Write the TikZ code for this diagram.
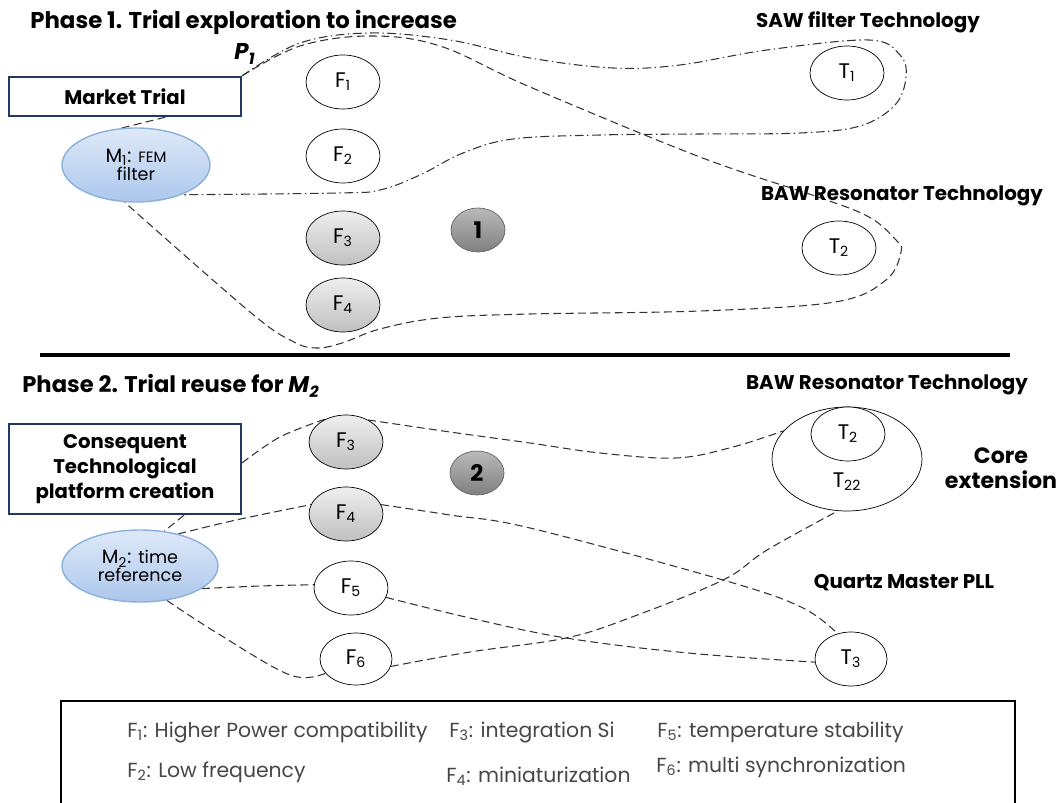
\documentclass[tikz,border=0pt]{standalone}
\usepackage{fontspec}
\setmainfont{Poppins}
\usetikzlibrary{shapes.geometric,backgrounds}
\definecolor{frameBlue}{RGB}{31,56,100}
\definecolor{marketTop}{RGB}{222,233,248}
\definecolor{marketBottom}{RGB}{172,199,236}
\definecolor{marketBorder}{RGB}{140,176,222}
\definecolor{reuseTop}{RGB}{238,238,238}
\definecolor{reuseBottom}{RGB}{192,192,192}
\definecolor{phaseTop}{RGB}{185,185,185}
\definecolor{phaseBottom}{RGB}{128,128,128}
\definecolor{lineGray}{RGB}{50,50,50}
\definecolor{legendGray}{RGB}{70,70,70}
\tikzstyle{diagram} = [x=0.02cm, y=-0.02cm]
\tikzstyle{featureStyle} = [draw, ellipse, fill=white, minimum width=1.48cm, minimum height=1.08cm, inner sep=0pt, font=\fontsize{12}{14}\selectfont]
\tikzstyle{reusedStyle} = [featureStyle, top color=reuseTop, bottom color=reuseBottom]
\tikzstyle{marketStyle} = [draw=marketBorder, ellipse, line width=0.8pt, top color=marketTop, bottom color=marketBottom, inner sep=0pt, align=center]
\tikzstyle{frameStyle} = [draw=frameBlue, fill=white, line width=1.3pt, minimum width=4.64cm, align=center, font=\bfseries\fontsize{11.2}{14.2}\selectfont]
\tikzstyle{phaseStyle} = [draw=black!60, ellipse, minimum width=1.08cm, minimum height=0.88cm, top color=phaseTop, bottom color=phaseBottom, font=\bfseries\fontsize{13}{15}\selectfont]
\tikzstyle{techLabel} = [inner sep=0pt, font=\bfseries\fontsize{11.3}{14}\selectfont]
\tikzstyle{titleStyle} = [anchor=west, inner sep=0pt, font=\bfseries\fontsize{13}{16}\selectfont]
\tikzstyle{legendStyle} = [anchor=west, inner sep=0pt, text=legendGray, font=\fontsize{11.6}{13}\selectfont]
\tikzstyle{trialLine} = [color=lineGray, line width=0.6pt, dash pattern=on 4.5pt off 2.5pt]
\tikzstyle{sawLine} = [color=lineGray, line width=0.6pt, dash pattern=on 5pt off 2pt on 0.8pt off 2pt]
\newcommand{\idx}[1]{\textsubscript{#1}}
\newcommand{\feature}[4]{\node [#4] (#1) at (#2) {F\idx{#3}};}
\newcommand{\techNode}[4]{\node [featureStyle, minimum width=#3] (#1) at (#2) {T\idx{#4}};}

\begin{document}
\begin{tikzpicture}[diagram]
\useasboundingbox (0,0) rectangle (1061,803);

\node [titleStyle] (titleOne) at (30,22) {Phase 1. Trial exploration to increase};
\node [font=\bfseries\itshape\fontsize{13}{15}\selectfont, inner sep=0pt] (pOne) at (245,54) {P\idx{1}};
\node [frameStyle, minimum height=0.78cm] (marketTrial) at (125,96.5) {Market Trial};
\node [marketStyle, minimum width=2.96cm, minimum height=1.48cm] (mOne) at (136,165) {{\fontsize{11}{12}\selectfont M\idx{1}: }{\fontsize{8.5}{10}\selectfont FEM}\\[-2pt]{\fontsize{10}{11}\selectfont filter}};
\feature{fOne}{343,82}{1}{featureStyle}
\feature{fTwo}{343,156}{2}{featureStyle}
\feature{fThree}{343,238}{3}{reusedStyle}
\feature{fFour}{343,305}{4}{reusedStyle}
\node [phaseStyle] (phaseOne) at (478,230) {1};
\node [techLabel] (sawLabel) at (868,22) {SAW filter Technology};
\techNode{tOne}{847,73}{1.48cm}{1}
\node [techLabel] (bawLabel) at (902,196) {BAW Resonator Technology};
\techNode{tTwo}{839,248}{1.48cm}{2}

\draw [line width=2pt] (40,355) -- (1010,355);

\node [titleStyle, font=\bfseries\fontsize{12.9}{16}\selectfont] (titleTwo) at (22,386) {Phase 2. Trial reuse for \textit{M}\idx{\textit{2}}};
\node [frameStyle, minimum height=1.8cm] (platformBox) at (125,469) {Consequent\\Technological\\platform creation};
\node [marketStyle, minimum width=3.12cm, minimum height=1.44cm] (mTwo) at (140,566) {{\fontsize{11}{12}\selectfont M\idx{2}: }{\fontsize{10}{11}\selectfont time}\\[-2pt]{\fontsize{10}{11}\selectfont reference}};
\feature{fThreeB}{346,442}{3}{reusedStyle}
\feature{fFourB}{346,514}{4}{reusedStyle}
\feature{fFive}{351,588}{5}{featureStyle}
\feature{fSix}{356,659}{6}{featureStyle, minimum width=1.44cm, minimum height=1.04cm}
\node [phaseStyle] (phaseTwo) at (477,473) {2};
\node [techLabel] (bawLabelB) at (887,385) {BAW Resonator Technology};
\node [featureStyle, minimum width=3.0cm, minimum height=2.08cm] (tTwoTwo) at (847,459) {};
\techNode{tTwoB}{848,434}{1.48cm}{2}
\node [inner sep=0pt, font=\fontsize{12}{14}\selectfont] (tTwoTwoLabel) at (847,482) {T\idx{22}};
\node [techLabel, align=center, font=\bfseries\fontsize{12.6}{14.5}\selectfont] (coreLabel) at (1001,468) {Core\\extension};
\node [techLabel] (quartzLabel) at (904,583) {Quartz Master PLL};
\techNode{tThree}{851,659}{1.44cm}{3}

\begin{scope}[on background layer]
\draw [sawLine] plot [smooth, tension=0.6] coordinates {(marketTrial.north east) (300,43) (370,33) (450,40) (530,58) (613,68) (680,65) (767,50) (869,40) (900,55) (906,77) (895,105) (860,126) (800,133) (700,134) (600,135) (513,139) (463,153) (420,175) (380,190) (338,193) (mOne.-33)};
\draw [trialLine] plot [smooth, tension=0.6] coordinates {(marketTrial.north east) (300,46) (370,36) (440,46) (530,87) (700,157) (818,197) (869,217) (896,240) (901,252) (886,280) (835,302) (700,311) (530,314) (439,318) (380,329) (342,343) (316,348) (292,341) (250,312) (mOne.-107)};
\draw [trialLine] (mOne.111) -- (marketTrial.-27);
\draw [trialLine] plot [smooth, tension=0.6] coordinates {(platformBox.3) (280,437) (fThreeB.130)};
\draw [trialLine] plot [smooth, tension=0.6] coordinates {(fThreeB.45) (450,432) (530,443) (600,453) (676,458) (733,447) (tTwoTwo.156)};
\draw [trialLine] (platformBox.-38) -- (mTwo.55);
\draw [trialLine] plot [smooth, tension=0.6] coordinates {(mTwo.40) (236,520) (fFourB.165)};
\draw [trialLine] plot [smooth, tension=0.6] coordinates {(fFourB.15) (450,515) (530,528) (723,580) (801,607) (tThree.118)};
\draw [trialLine] plot [smooth, tension=0.6] coordinates {(mTwo.-20) (260,586) (fFive.175)};
\draw [trialLine] plot [smooth, tension=0.6] coordinates {(fFive.-15) (470,618) (566,638) (688,653) (tThree.185)};
\draw [trialLine] plot [smooth, tension=0.6] coordinates {(mTwo.-52) (217,633) (290,675) (fSix.-155)};
\draw [trialLine] plot [smooth, tension=0.6] coordinates {(fSix.-12) (470,652) (566,638) (632,617) (723,580) (767,550) (tTwoTwo.-100)};
\end{scope}

\draw [line width=1.3pt] (61,701) rectangle (1015,830);
\node [legendStyle] (legendOne) at (127,732) {F\idx{1}: Higher Power compatibility};
\node [legendStyle] (legendThree) at (449,732) {F\idx{3}: integration Si};
\node [legendStyle] (legendFive) at (657,732) {F\idx{5}: temperature stability};
\node [legendStyle] (legendTwo) at (127,772) {F\idx{2}: Low frequency};
\node [legendStyle] (legendFour) at (446,776) {F\idx{4}: miniaturization};
\node [legendStyle] (legendSix) at (656,767) {F\idx{6}: multi synchronization};
\end{tikzpicture}
\end{document}
